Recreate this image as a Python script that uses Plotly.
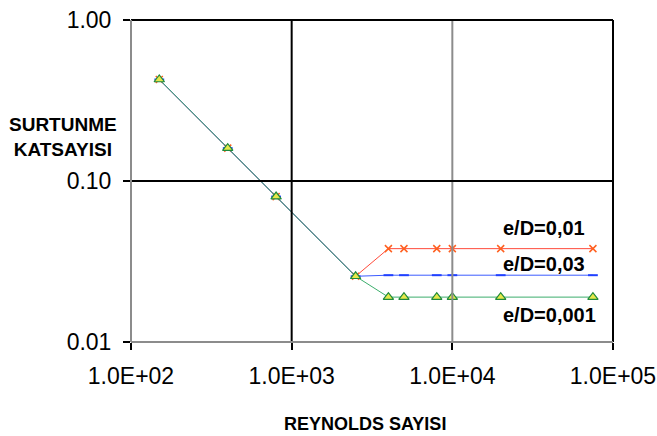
import plotly.graph_objects as go

# Data
reynolds = [150, 400, 800, 2500, 4000, 5000, 8000, 10000, 20000, 75000]
f_laminar = [0.427, 0.16, 0.08, 0.0256]
f_ed_001 = [0.038, 0.038, 0.038, 0.038, 0.038, 0.038]   # e/D=0,01
f_ed_003 = [0.026, 0.026, 0.026, 0.026, 0.026, 0.026]   # e/D=0,03
f_ed_0001 = [0.019, 0.019, 0.019, 0.019, 0.019, 0.019]  # e/D=0,001
series_labels = ["e/D=0,01", "e/D=0,03", "e/D=0,001"]
x_tick_vals = [100, 1000, 10000, 100000]
x_tick_text = ["1.0E+02", "1.0E+03", "1.0E+04", "1.0E+05"]
y_tick_vals = [0.01, 0.1, 1.0]
y_tick_text = ["0.01", "0.10", "1.00"]

FONT = "Liberation Sans, Arial, sans-serif"

fig = go.Figure()

fig.add_trace(go.Scatter(
    x=reynolds, y=f_laminar + f_ed_001, mode="lines+markers",
    line=dict(color="#ff4a3a", width=1),
    marker=dict(symbol="x-thin", size=7, line=dict(color="#ff6020", width=1.5)),
    name=series_labels[0]))
fig.add_trace(go.Scatter(
    x=reynolds, y=f_laminar + f_ed_003, mode="lines+markers",
    line=dict(color="#3c5cff", width=1),
    marker=dict(symbol="line-ew", size=7, line=dict(color="#2040ff", width=2)),
    name=series_labels[1]))
fig.add_trace(go.Scatter(
    x=reynolds, y=f_laminar + f_ed_0001, mode="lines+markers",
    line=dict(color="#3cae6c", width=1),
    marker=dict(symbol="triangle-up", size=9, color="#e6e84a",
                line=dict(color="#1f8a3c", width=1.2)),
    name=series_labels[2]))

shapes = []
# grid lines
shapes.append(dict(type="line", xref="x", yref="paper", x0=1000, x1=1000, y0=0, y1=1,
                   line=dict(color="black", width=2)))
shapes.append(dict(type="line", xref="x", yref="paper", x0=10000, x1=10000, y0=0, y1=1,
                   line=dict(color="#8c8c8c", width=2)))
shapes.append(dict(type="line", xref="paper", yref="y", x0=0, x1=1, y0=0.1, y1=0.1,
                   line=dict(color="black", width=2)))
# frame
shapes.append(dict(type="line", xref="paper", yref="paper", x0=0, x1=1, y0=1, y1=1,
                   line=dict(color="black", width=2)))
shapes.append(dict(type="line", xref="paper", yref="paper", x0=1, x1=1, y0=0, y1=1,
                   line=dict(color="black", width=2)))
shapes.append(dict(type="line", xref="paper", yref="paper", x0=0, x1=1, y0=0, y1=0,
                   line=dict(color="#8c8c8c", width=2)))
shapes.append(dict(type="line", xref="paper", yref="paper", x0=0, x1=0, y0=0, y1=1,
                   line=dict(color="#8c8c8c", width=2)))

ann_font = dict(family=FONT, size=20, color="black")
annotations = [
    dict(text="<b>" + series_labels[0] + "</b>", xref="paper", yref="paper",
         x=0.768, y=0.354, xanchor="left", yanchor="middle", showarrow=False, font=ann_font),
    dict(text="<b>" + series_labels[1] + "</b>", xref="paper", yref="paper",
         x=0.768, y=0.242, xanchor="left", yanchor="middle", showarrow=False, font=ann_font),
    dict(text="<b>" + series_labels[2] + "</b>", xref="paper", yref="paper",
         x=0.768, y=0.084, xanchor="left", yanchor="middle", showarrow=False, font=ann_font),
    dict(text="<b>SURTUNME<br>KATSAYISI</b>", xref="paper", yref="paper",
         x=-0.141, y=0.637, xanchor="center", yanchor="middle", showarrow=False,
         font=dict(family=FONT, size=19, color="black")),
    dict(text="<b>REYNOLDS SAYISI</b>", xref="paper", yref="paper",
         x=0.4855, y=-0.256, xanchor="center", yanchor="middle", showarrow=False,
         font=dict(family=FONT, size=18, color="black")),
]

fig.update_layout(
    width=657, height=436,
    margin=dict(l=131, r=44, t=20, b=94),
    paper_bgcolor="white", plot_bgcolor="white",
    showlegend=False,
    shapes=shapes,
    annotations=annotations,
    font=dict(family=FONT, size=23, color="black"),
    xaxis=dict(type="log", range=[2, 5], tickvals=x_tick_vals, ticktext=x_tick_text,
               showgrid=False, zeroline=False, ticks="outside", ticklen=7,
               tickcolor="black", tickwidth=1.5, showline=False, ticklabelstandoff=6,
               automargin=False),
    yaxis=dict(type="log", range=[-2, 0], tickvals=y_tick_vals, ticktext=y_tick_text,
               showgrid=False, zeroline=False, ticks="outside", ticklen=7,
               tickcolor="black", tickwidth=1.5, showline=False, ticklabelstandoff=7,
               automargin=False),
)

fig.write_html("out.html")
